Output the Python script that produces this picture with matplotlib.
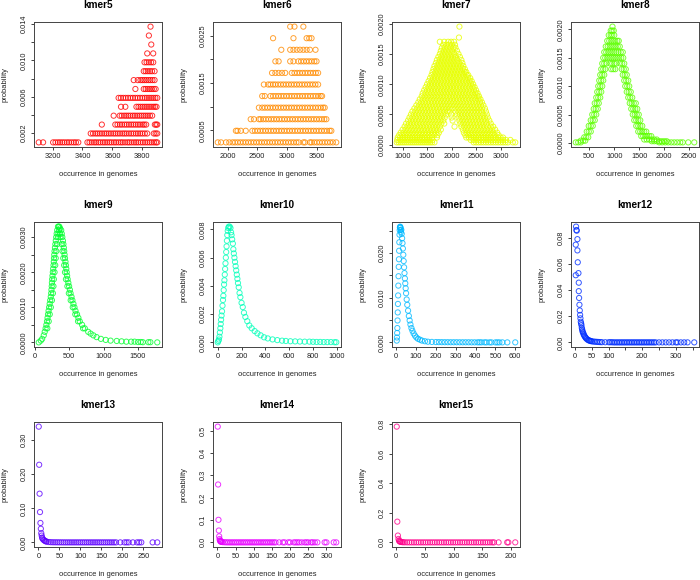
import matplotlib
matplotlib.use("Agg")
import matplotlib.pyplot as plt

plt.rcParams["font.family"] = ["Liberation Sans", "DejaVu Sans"]

# ---- data ---------------------------------------------------------------

# kmer5: discrete probability levels, x values per level
k5_levels = [0.00098, 0.00196, 0.00294, 0.00392, 0.0049, 0.00588, 0.00686,
             0.00784, 0.00882, 0.0098, 0.01078, 0.01176, 0.01275, 0.01373]
k5_x = [
    [3108, 3137, 3204, 3220, 3236, 3250, 3265, 3280, 3296, 3310, 3326, 3342, 3356, 3372,
     3433, 3447, 3462, 3478, 3491, 3506, 3520, 3536, 3550, 3565, 3580, 3594, 3610, 3624,
     3640, 3655, 3668, 3684, 3700, 3713, 3728, 3744, 3758, 3772, 3788, 3803, 3818, 3833,
     3848, 3862, 3877, 3890, 3899],
    [3455, 3470, 3486, 3500, 3515, 3530, 3546, 3560, 3575, 3590, 3606, 3620, 3635, 3650,
     3666, 3680, 3694, 3710, 3725, 3740, 3756, 3770, 3785, 3800, 3816, 3832, 3876, 3888, 3899],
    [3529, 3619, 3634, 3650, 3664, 3680, 3695, 3710, 3725, 3740, 3755, 3770, 3784, 3800,
     3812, 3825, 3883, 3892, 3899],
    [3608, 3648, 3662, 3678, 3692, 3706, 3720, 3736, 3750, 3765, 3780, 3794, 3808, 3822,
     3836, 3850, 3865],
    [3657, 3686, 3760, 3774, 3788, 3802, 3816, 3830, 3844, 3858, 3872, 3884, 3894],
    [3641, 3656, 3672, 3688, 3704, 3720, 3736, 3752, 3768, 3784, 3800, 3816, 3830, 3844,
     3858, 3872, 3886, 3899],
    [3753, 3809, 3822, 3836, 3850, 3863, 3876, 3888],
    [3742, 3769, 3787, 3800, 3813, 3826, 3840, 3853, 3867, 3881],
    [3809, 3822, 3836, 3850, 3864, 3881],
    [3814, 3828, 3843, 3858, 3872],
    [3832, 3872],
    [3859],
    [3843],
    [3854],
]

# kmer6
k6_levels = [0.000245, 0.00049, 0.000735, 0.00098, 0.001225, 0.00147, 0.001715,
             0.00196, 0.002205, 0.00245, 0.002695]
k6_x = [
    [1833, 1889, 1972, 2028, 2083, 2125, 2170, 2215, 2260, 2305, 2350, 2395, 2440, 2485,
     2530, 2575, 2620, 2665, 2710, 2755, 2800, 2845, 2890, 2935, 2980, 3025, 3070, 3115,
     3160, 3200, 3277, 3305, 3388, 3415, 3460, 3505, 3550, 3595, 3640, 3685, 3730, 3775, 3832],
    [2139, 2167, 2222, 2305, 2416, 2460, 2505, 2550, 2595, 2640, 2685, 2730, 2775, 2820,
     2865, 2910, 2955, 3000, 3045, 3090, 3135, 3180, 3225, 3270, 3315, 3360, 3405, 3450,
     3495, 3540, 3585, 3630, 3675, 3721, 3749],
    [2389, 2444, 2527, 2555, 2600, 2645, 2690, 2735, 2780, 2825, 2870, 2915, 2960, 3005,
     3050, 3095, 3140, 3185, 3230, 3275, 3320, 3365, 3410, 3455, 3500, 3545, 3590, 3630, 3665],
    [2527, 2583, 2628, 2673, 2718, 2763, 2808, 2853, 2898, 2943, 2988, 3033, 3078, 3123,
     3168, 3213, 3258, 3303, 3348, 3393, 3438, 3483, 3528, 3573, 3610, 3637],
    [2583, 2627, 2722, 2767, 2812, 2857, 2902, 2947, 2992, 3037, 3082, 3127, 3172, 3217,
     3262, 3307, 3352, 3397, 3442, 3487, 3532, 3570, 3593],
    [2611, 2683, 2722, 2766, 2805, 2850, 2895, 2940, 2985, 3030, 3075, 3120, 3165, 3210,
     3255, 3300, 3345, 3390, 3435, 3480, 3526],
    [2749, 2805, 2860, 2916, 2971, 3082, 3127, 3172, 3217, 3262, 3307, 3352, 3397, 3442,
     3487, 3526],
    [2805, 2860, 3055, 3110, 3193, 3238, 3283, 3328, 3373, 3418, 3463, 3499],
    [2905, 3055, 3110, 3166, 3221, 3277, 3332, 3388, 3482],
    [2766, 3110, 3332, 3376, 3415],
    [3055, 3127, 3277],
]

# kmer7
k7_levels = [0.00004, 0.00008, 0.00012, 0.00016, 0.0002, 0.00025, 0.0003, 0.00035,
             0.0004, 0.00045, 0.0005, 0.00055, 0.0006, 0.00065, 0.0007, 0.00075, 0.0008,
             0.00085, 0.0009, 0.00095, 0.0010, 0.00105, 0.0011, 0.00115, 0.0012, 0.00125,
             0.0013, 0.00135, 0.0014, 0.00145, 0.0015, 0.00155, 0.0016, 0.00165, 0.0017,
             0.00177, 0.00195]
k7_x = [
    [880, 920, 960, 1000, 1040, 1080, 1120, 1160, 1200, 1240, 1280, 1320, 1360, 1400, 1440,
     1480, 1520, 1560, 1600, 1650, 2450, 2500, 2550, 2600, 2650, 2700, 2750, 2800, 2850,
     2900, 2950, 3000, 3050, 3100, 3150, 3250, 3300],
    [890, 950, 1010, 1070, 1130, 1190, 1250, 1310, 1370, 1430, 1490, 1550, 1610, 2390, 2450,
     2510, 2570, 2630, 2690, 2750, 2810, 2870, 2930, 2990, 3050, 3110, 3200],
    [900, 950, 1000, 1050, 1100, 1150, 1200, 1250, 1300, 1350, 1400, 1450, 1500, 1550, 1600,
     1700, 2300, 2350, 2400, 2450, 2500, 2550, 2600, 2650, 2700, 2750, 2800, 2850, 2900,
     2950, 3000, 3050],
    [930, 990, 1050, 1110, 1170, 1230, 1290, 1350, 1410, 1470, 1530, 1590, 1650, 1710, 2280,
     2340, 2400, 2460, 2520, 2580, 2640, 2700, 2760, 2820, 2880, 2960],
    [960, 1020, 1080, 1140, 1200, 1260, 1320, 1380, 1440, 1500, 1560, 1620, 1680, 1740,
     2250, 2310, 2370, 2430, 2490, 2550, 2610, 2670, 2730, 2790, 2850, 2930],
    [1000, 1060, 1120, 1180, 1240, 1300, 1360, 1420, 1480, 1540, 1600, 1660, 1720, 1780,
     2230, 2290, 2350, 2410, 2470, 2530, 2590, 2650, 2710, 2770, 2830, 2890],
    [1040, 1100, 1160, 1220, 1280, 1340, 1400, 1460, 1520, 1580, 1640, 1700, 1760, 2060,
     2200, 2260, 2320, 2380, 2440, 2500, 2560, 2620, 2680, 2740, 2800, 2850],
    [1070, 1130, 1190, 1250, 1310, 1370, 1430, 1490, 1550, 1610, 1670, 1730, 1790, 1850,
     2180, 2240, 2300, 2360, 2420, 2480, 2540, 2600, 2660, 2720, 2800],
    [1110, 1170, 1230, 1290, 1350, 1410, 1470, 1530, 1590, 1650, 1710, 1770, 1830, 2020,
     2160, 2220, 2280, 2340, 2400, 2460, 2520, 2580, 2640, 2700, 2770],
    [1140, 1200, 1260, 1320, 1380, 1440, 1500, 1560, 1620, 1680, 1740, 1800, 1860, 2000,
     2140, 2200, 2260, 2320, 2380, 2440, 2500, 2560, 2620, 2680, 2740],
    [1170, 1230, 1290, 1350, 1410, 1470, 1530, 1590, 1650, 1710, 1770, 1830, 1890, 1990,
     2110, 2170, 2230, 2290, 2350, 2410, 2470, 2530, 2590, 2650, 2720],
    [1200, 1260, 1320, 1380, 1440, 1500, 1560, 1620, 1680, 1740, 1800, 1860, 1920, 1960,
     2080, 2140, 2200, 2260, 2320, 2380, 2440, 2500, 2560, 2620, 2700],
    [1240, 1300, 1360, 1420, 1480, 1540, 1600, 1660, 1720, 1780, 1840, 1900, 1960, 2020,
     2080, 2140, 2200, 2260, 2320, 2380, 2440, 2500, 2560, 2620, 2680],
    [1280, 1340, 1400, 1460, 1520, 1580, 1640, 1700, 1760, 1820, 1880, 1940, 2000, 2060,
     2120, 2180, 2240, 2300, 2360, 2420, 2480, 2540, 2600, 2650],
    [1320, 1380, 1440, 1500, 1560, 1620, 1680, 1740, 1800, 1860, 1920, 1980, 2040, 2100,
     2160, 2220, 2280, 2340, 2400, 2460, 2520, 2580, 2620],
    [1350, 1410, 1470, 1530, 1590, 1650, 1710, 1770, 1830, 1890, 1950, 2010, 2070, 2130,
     2190, 2250, 2310, 2370, 2430, 2490, 2550, 2590],
    [1390, 1450, 1510, 1570, 1630, 1690, 1750, 1810, 1870, 1930, 1990, 2050, 2110, 2170,
     2230, 2290, 2350, 2410, 2470, 2530, 2560],
    [1410, 1470, 1530, 1590, 1650, 1710, 1770, 1830, 1890, 1950, 2010, 2070, 2130, 2190,
     2250, 2310, 2370, 2430, 2490, 2530],
    [1440, 1500, 1560, 1620, 1680, 1740, 1800, 1860, 1920, 1980, 2040, 2100, 2160, 2220,
     2280, 2340, 2400, 2460, 2500],
    [1470, 1530, 1590, 1650, 1710, 1770, 1830, 1890, 1950, 2010, 2070, 2130, 2190, 2250,
     2310, 2370, 2430, 2470],
    [1500, 1560, 1620, 1680, 1740, 1800, 1860, 1920, 1980, 2040, 2100, 2160, 2220, 2280,
     2340, 2400, 2440],
    [1530, 1590, 1650, 1710, 1770, 1830, 1890, 1950, 2010, 2070, 2130, 2190, 2250, 2310,
     2370, 2410],
    [1560, 1620, 1680, 1740, 1800, 1860, 1920, 1980, 2040, 2100, 2160, 2220, 2280, 2340, 2380],
    [1590, 1650, 1710, 1770, 1830, 1890, 1950, 2010, 2070, 2130, 2190, 2250, 2310, 2340],
    [1610, 1670, 1730, 1790, 1850, 1910, 1970, 2030, 2090, 2150, 2210, 2270, 2300],
    [1630, 1690, 1750, 1810, 1870, 1930, 1990, 2050, 2110, 2170, 2230, 2270],
    [1650, 1710, 1770, 1830, 1890, 1950, 2010, 2070, 2130, 2190, 2240],
    [1680, 1740, 1800, 1860, 1920, 1980, 2040, 2100, 2160, 2220],
    [1700, 1760, 1820, 1880, 1940, 2000, 2060, 2120, 2200],
    [1730, 1790, 1850, 1910, 1970, 2030, 2090, 2170],
    [1760, 1820, 1880, 1940, 2000, 2060, 2140],
    [1780, 1840, 1900, 1960, 2020, 2110],
    [1800, 1860, 1920, 1980, 2040, 2080],
    [1830, 1890, 1950, 2010, 2070],
    [1760, 1850, 1930, 1990, 2050],
    [2150],
    [2160],
]

# kmer8
k8_levels = [0.00001, 0.00003, 0.00004, 0.00006, 0.0001, 0.00012, 0.0002, 0.0003, 0.0004,
             0.0005, 0.0006, 0.0007, 0.0008, 0.0009, 0.0010, 0.0011, 0.0012, 0.0013,
             0.0014, 0.0015, 0.0016, 0.0017, 0.0018, 0.0019, 0.00198, 0.00205]
k8_x = [
    [230, 280, 330, 1900, 1960, 2020, 2080, 2140, 2200, 2260, 2320, 2370, 2480, 2600],
    [1750, 1800, 1850, 1900, 1950, 2000, 2050],
    [330, 380, 420],
    [1600, 1650, 1700, 1750, 1800, 1850],
    [400, 440, 480],
    [1540, 1580, 1620, 1660, 1700, 1740],
    [450, 490, 530, 1480, 1520, 1560, 1600, 1640],
    [490, 530, 570, 1440, 1480, 1520, 1560],
    [530, 570, 610, 1400, 1440, 1480, 1520],
    [560, 600, 640, 1370, 1410, 1450, 1490],
    [590, 630, 670, 1340, 1380, 1420, 1460],
    [610, 650, 690, 1310, 1350, 1390, 1430],
    [640, 680, 720, 1280, 1320, 1360],
    [660, 700, 740, 1250, 1290, 1330],
    [680, 720, 760, 1220, 1260, 1300],
    [700, 740, 780, 1200, 1240, 1280],
    [720, 760, 800, 1170, 1210, 1250],
    [740, 780, 820, 940, 980, 1020, 1150, 1190, 1230],
    [760, 800, 840, 920, 960, 1000, 1040, 1120, 1160, 1200],
    [780, 820, 860, 900, 940, 980, 1020, 1060, 1100, 1140, 1180],
    [800, 840, 880, 920, 960, 1000, 1040, 1085, 1130, 1170],
    [830, 870, 910, 950, 990, 1030, 1070, 1110],
    [860, 900, 940, 980, 1020, 1060, 1090],
    [890, 930, 960, 1000],
    [930, 960, 990],
    [965],
]

# kmer9 (outer edge of the band, then inner edge)
k9_x = [55, 85, 105, 128, 142, 155, 166, 175, 183, 190, 198, 206, 214, 222, 230, 236, 240,
        244, 247, 250, 255, 260, 265, 270, 274, 277, 281, 285, 291, 297, 303, 309, 316, 324,
        335, 345, 355, 365, 382, 390, 398, 407, 414, 420, 426, 431, 437, 444, 450, 456, 462,
        468, 476, 486, 497, 508, 518, 532, 545, 560, 575, 590, 612, 632, 652, 686, 725, 775,
        810, 850, 897, 960, 1030, 1100, 1190, 1260, 1330, 1400, 1450, 1500, 1540, 1570,
        1650, 1680, 1780,
        180, 200, 215, 231, 247, 261, 269, 275, 285, 295, 302, 310, 322, 334, 341, 350,
        365, 373, 389, 401, 412, 425, 437, 451, 472, 493, 520, 550, 587, 627, 700]
k9_y = [0.0, 0.00005, 0.0001, 0.0002, 0.0003, 0.0004, 0.0005, 0.0006, 0.0007, 0.0008,
        0.0009, 0.0010, 0.0011, 0.0012, 0.0013, 0.0014, 0.0015, 0.0016, 0.0017, 0.0018,
        0.0019, 0.0020, 0.0021, 0.0022, 0.0023, 0.0024, 0.0025, 0.0026, 0.0027, 0.0028,
        0.0029, 0.0030, 0.0031, 0.0032, 0.0033, 0.0033, 0.0033, 0.00325, 0.0032, 0.0031,
        0.0030, 0.0029, 0.0028, 0.0027, 0.0026, 0.0025, 0.0024, 0.0023, 0.0022, 0.0021,
        0.0020, 0.0019, 0.0018, 0.0017, 0.0016, 0.0015, 0.0014, 0.0013, 0.0012, 0.0011,
        0.0010, 0.0009, 0.0008, 0.0007, 0.0006, 0.0005, 0.0004, 0.0003, 0.00025, 0.0002,
        0.00015, 0.0001, 0.00007, 0.00005, 0.00004, 0.00003, 0.00002, 0.00002, 0.00002,
        0.00001, 0.00001, 0.000005, 0.000005, 0.000005, 0.0,
        0.0004, 0.0006, 0.0008, 0.0010, 0.0012, 0.0014, 0.0016, 0.0018, 0.0020, 0.0022,
        0.0024, 0.0026, 0.0028, 0.0030, 0.0031, 0.0032,
        0.0031, 0.0030, 0.0028, 0.0026, 0.0024, 0.0022, 0.0020, 0.0018, 0.0016, 0.0014,
        0.0012, 0.0010, 0.0008, 0.0006, 0.0004]

# kmer10
k10_x = [0, 5, 10, 14, 18, 22, 25, 28, 32, 36, 40, 44, 47, 50, 53, 56, 59, 62, 65, 68, 71,
         74, 77, 80, 84, 88, 93, 100, 107, 112, 116, 121, 127, 131, 135, 140, 145, 150, 155,
         160, 165, 170, 176, 183, 190, 200, 210, 220, 232, 248, 265, 285, 310, 333, 360,
         389, 420, 460, 500, 540, 572, 610, 650, 690, 730, 770, 800, 830, 860, 890, 920,
         950, 980, 995]
k10_y = [0.0, 0.0001, 0.0002, 0.0004, 0.0007, 0.001, 0.0013, 0.0016, 0.0019, 0.0022,
         0.0026, 0.003, 0.0033, 0.0037, 0.0041, 0.0044, 0.0048, 0.0052, 0.0056, 0.006,
         0.0064, 0.0068, 0.0072, 0.0076, 0.0079, 0.0081, 0.0082, 0.0082, 0.0081, 0.0078,
         0.0076, 0.0073, 0.0070, 0.0066, 0.0063, 0.0060, 0.0057, 0.0054, 0.0051, 0.0048,
         0.0045, 0.0042, 0.0039, 0.0035, 0.0032, 0.0028, 0.0025, 0.0021, 0.0018, 0.0015,
         0.0012, 0.001, 0.0008, 0.00064, 0.0005, 0.00036, 0.00028, 0.00021, 0.00016,
         0.00012, 0.0001, 0.00008, 0.00007, 0.00006, 0.00005, 0.00005, 0.00004, 0.00003,
         0.00003, 0.00002, 0.00002, 0.00002, 0.00001, 0.00001]

# kmer11
k11_x = [3, 4, 5, 6, 7, 8, 9, 10, 11, 12, 13, 14, 15, 16, 17, 18, 19, 20, 21, 22, 23, 24,
         26, 28, 30, 32, 34, 36, 38, 40, 42, 44, 46, 48, 50, 53, 56, 60, 64, 68, 72, 77, 82,
         88, 95, 102, 110, 120, 130, 145, 160, 180, 200, 215, 230, 245, 260, 275, 290, 305,
         320, 335, 350, 365, 380, 395, 410, 420, 430, 445, 455, 470, 480, 500, 510, 520,
         535, 560, 600]
k11_y = [0.0004, 0.0011, 0.0021, 0.0032, 0.0049, 0.0067, 0.0086, 0.0105, 0.0127, 0.0148,
         0.0169, 0.0186, 0.0205, 0.0224, 0.0241, 0.0251, 0.0257, 0.0259, 0.0258, 0.0256,
         0.0252, 0.0247, 0.0252, 0.0243, 0.0233, 0.0222, 0.021, 0.0196, 0.0182, 0.0168,
         0.0155, 0.0143, 0.0132, 0.0121, 0.011, 0.0096, 0.0084, 0.0071, 0.0059, 0.0049,
         0.004, 0.0032, 0.0026, 0.002, 0.0015, 0.0011, 0.0008, 0.0006, 0.0004, 0.00025,
         0.00015, 0.0001, 0.00007, 0.00006, 0.00005, 0.00004, 0.00004, 0.00003, 0.00003,
         0.00003, 0.00002, 0.00002, 0.00002, 0.00002, 0.00001, 0.00001, 0.00001, 0.00001,
         0.00001, 0.00001, 0.0, 0.0, 0.0, 0.0, 0.0, 0.0, 0.0, 0.0, 0.0]

# kmer12
k12_x = [2, 2, 3, 4, 5, 7, 7, 8, 10, 11, 11, 12, 13, 14, 15, 16, 17, 18, 19, 20, 21, 22,
         23, 25, 26, 28, 30, 32, 34, 37, 40, 42, 45, 47, 50, 55, 60, 65, 70, 75, 80, 90,
         100, 105, 110, 115, 120, 125, 130, 135, 140, 145, 150, 155, 160, 165, 170, 175,
         180, 185, 190, 195, 200, 205, 210, 215, 220, 225, 230, 235, 240, 250, 260, 270,
         280, 290, 300, 305, 315, 325, 335, 355]
k12_y = [0.0748, 0.0514, 0.0886, 0.086, 0.0855, 0.079, 0.0704, 0.0613, 0.053, 0.0457,
         0.0392, 0.034, 0.0288, 0.0244, 0.021, 0.0184, 0.0158, 0.0145, 0.0132, 0.0112,
         0.010, 0.0088, 0.0078, 0.0068, 0.0058, 0.0049, 0.0041, 0.0034, 0.0028, 0.0021,
         0.0017, 0.0014, 0.0012, 0.001, 0.0008, 0.0006, 0.0005, 0.0004, 0.0003, 0.0002,
         0.00015, 0.0001, 0.0001, 0.0001, 0.0001, 0.0, 0.0, 0.0, 0.0, 0.0, 0.0, 0.0, 0.0,
         0.0, 0.0, 0.0, 0.0, 0.0, 0.0, 0.0, 0.0, 0.0, 0.0, 0.0, 0.0, 0.0, 0.0, 0.0, 0.0,
         0.0, 0.0, 0.0, 0.0, 0.0, 0.0, 0.0, 0.0, 0.0, 0.0, 0.0, 0.0, 0.0]

# kmer13
k13_x = [1, 2, 3, 4, 5, 6, 7, 8, 9, 10, 12, 14, 16, 18, 20, 25, 30, 35, 40, 45, 50, 55, 60,
         65, 70, 75, 80, 85, 90, 95, 100, 105, 110, 115, 120, 125, 130, 135, 140, 145, 150,
         155, 160, 165, 170, 175, 180, 185, 195, 205, 210, 215, 225, 235, 240, 245, 272, 283]
k13_y = [0.34, 0.228, 0.143, 0.089, 0.057, 0.04, 0.027, 0.02, 0.014, 0.011, 0.008, 0.006,
         0.004, 0.003, 0.002, 0.001, 0.0005, 0.0003, 0.0002, 0.0002, 0.0001, 0.0001, 0.0,
         0.0, 0.0, 0.0, 0.0, 0.0, 0.0, 0.0, 0.0, 0.0, 0.0, 0.0, 0.0, 0.0, 0.0, 0.0, 0.0,
         0.0, 0.0, 0.0, 0.0, 0.0, 0.0, 0.0, 0.0, 0.0, 0.0, 0.0, 0.0, 0.0, 0.0, 0.0, 0.0,
         0.0, 0.0, 0.0]

# kmer14
k14_x = [1, 2, 3, 4, 5, 6, 7, 8, 9, 10, 12, 15, 20, 25, 30, 35, 40, 45, 50, 55, 60, 65, 70,
         75, 80, 85, 90, 95, 100, 105, 110, 115, 120, 125, 130, 135, 140, 145, 150, 155, 160,
         170, 180, 185, 195, 200, 210, 215, 220, 225, 232, 240, 245, 250, 258, 262, 268, 275,
         295, 300, 320, 327]
k14_y = [0.518, 0.259, 0.101, 0.053, 0.027, 0.015, 0.009, 0.006, 0.004, 0.003, 0.002,
         0.001, 0.0005, 0.0002, 0.0001, 0.0, 0.0, 0.0, 0.0, 0.0, 0.0, 0.0, 0.0, 0.0, 0.0,
         0.0, 0.0, 0.0, 0.0, 0.0, 0.0, 0.0, 0.0, 0.0, 0.0, 0.0, 0.0, 0.0, 0.0, 0.0, 0.0,
         0.0, 0.0, 0.0, 0.0, 0.0, 0.0, 0.0, 0.0, 0.0, 0.0, 0.0, 0.0, 0.0, 0.0, 0.0, 0.0,
         0.0, 0.0, 0.0, 0.0, 0.0]

# kmer15
k15_x = [1, 2, 3, 4, 5, 6, 7, 8, 10, 12, 15, 19, 23, 27, 31, 35, 39, 43, 47, 51, 55, 59,
         63, 67, 71, 75, 79, 83, 87, 91, 95, 99, 103, 107, 111, 115, 119, 123, 127, 131, 135,
         139, 143, 147, 151, 155, 159, 163, 167, 170, 178, 193, 195, 207]
k15_y = [0.782, 0.14, 0.046, 0.023, 0.011, 0.007, 0.005, 0.003, 0.002, 0.001, 0.0005,
         0.0002, 0.0001, 0.0, 0.0, 0.0, 0.0, 0.0, 0.0, 0.0, 0.0, 0.0, 0.0, 0.0, 0.0, 0.0,
         0.0, 0.0, 0.0, 0.0, 0.0, 0.0, 0.0, 0.0, 0.0, 0.0, 0.0, 0.0, 0.0, 0.0, 0.0, 0.0,
         0.0, 0.0, 0.0, 0.0, 0.0, 0.0, 0.0, 0.0, 0.0, 0.0, 0.0, 0.0]


def flatten(levels, xs):
    px, py = [], []
    for lev, row in zip(levels, xs):
        px.extend(row)
        py.extend([lev] * len(row))
    return px, py


k5_px, k5_py = flatten(k5_levels, k5_x)
k6_px, k6_py = flatten(k6_levels, k6_x)
k7_px, k7_py = flatten(k7_levels, k7_x)
k8_px, k8_py = flatten(k8_levels, k8_x)

# R rainbow(11)
colors = ["#FF0000", "#FF8B00", "#E8FF00", "#5DFF00", "#00FF2E", "#00FFB9",
          "#00B9FF", "#002EFF", "#5D00FF", "#E800FF", "#FF008B"]

panels = [
    ("kmer5", k5_px, k5_py, [3200, 3400, 3600, 3800], ["3200", "3400", "3600", "3800"],
     [0.002, 0.004, 0.006, 0.008, 0.010, 0.012, 0.014],
     ["0.002", "", "0.006", "", "0.010", "", "0.014"]),
    ("kmer6", k6_px, k6_py, [2000, 2500, 3000, 3500], ["2000", "2500", "3000", "3500"],
     [0.0005, 0.0010, 0.0015, 0.0020, 0.0025],
     ["0.0005", "", "0.0015", "", "0.0025"]),
    ("kmer7", k7_px, k7_py, [1000, 1500, 2000, 2500, 3000],
     ["1000", "1500", "2000", "2500", "3000"],
     [0.0, 0.0005, 0.0010, 0.0015, 0.0020],
     ["0.0000", "0.0005", "0.0010", "0.0015", "0.0020"]),
    ("kmer8", k8_px, k8_py, [500, 1000, 1500, 2000, 2500],
     ["500", "1000", "1500", "2000", "2500"],
     [0.0, 0.0005, 0.0010, 0.0015, 0.0020],
     ["0.0000", "0.0005", "0.0010", "0.0015", "0.0020"]),
    ("kmer9", k9_x, k9_y, [0, 500, 1000, 1500], ["0", "500", "1000", "1500"],
     [0.0, 0.0005, 0.0010, 0.0015, 0.0020, 0.0025, 0.0030],
     ["0.0000", "", "0.0010", "", "0.0020", "", "0.0030"]),
    ("kmer10", k10_x, k10_y, [0, 200, 400, 600, 800, 1000],
     ["0", "200", "400", "600", "800", "1000"],
     [0.0, 0.002, 0.004, 0.006, 0.008],
     ["0.000", "0.002", "0.004", "0.006", "0.008"]),
    ("kmer11", k11_x, k11_y, [0, 100, 200, 300, 400, 500, 600],
     ["0", "100", "200", "300", "400", "500", "600"],
     [0.0, 0.005, 0.010, 0.015, 0.020, 0.025],
     ["0.000", "", "0.010", "", "0.020", ""]),
    ("kmer12", k12_x, k12_y, [0, 50, 100, 150, 200, 250, 300, 350],
     ["0", "50", "100", "", "200", "", "300", ""],
     [0.0, 0.02, 0.04, 0.06, 0.08],
     ["0.00", "0.02", "0.04", "0.06", "0.08"]),
    ("kmer13", k13_x, k13_y, [0, 50, 100, 150, 200, 250],
     ["0", "50", "100", "150", "200", "250"],
     [0.0, 0.1, 0.2, 0.3], ["0.00", "0.10", "0.20", "0.30"]),
    ("kmer14", k14_x, k14_y, [0, 50, 100, 150, 200, 250, 300],
     ["0", "50", "100", "150", "200", "250", "300"],
     [0.0, 0.1, 0.2, 0.3, 0.4, 0.5], ["0.0", "0.1", "0.2", "0.3", "0.4", "0.5"]),
    ("kmer15", k15_x, k15_y, [0, 50, 100, 150, 200],
     ["0", "50", "100", "150", "200"],
     [0.0, 0.2, 0.4, 0.6, 0.8], ["0.0", "0.2", "0.4", "0.6", "0.8"]),
]

# ---- layout (pixel positions of the plot boxes) -------------------------
W, H = 700, 580
col_left = [34, 213, 392, 571]
row_top = [22, 222, 422]
box_w, box_h = 128, 125

fig = plt.figure(figsize=(W / 100, H / 100), dpi=100)

for i, (name, xs, ys, xt, xtl, yt, ytl) in enumerate(panels):
    r, c = divmod(i, 4)
    left = col_left[c] / W
    bottom = 1 - (row_top[r] + box_h) / H
    ax = fig.add_axes([left, bottom, box_w / W, box_h / H])
    ax.scatter(xs, ys, s=14, facecolors="none", edgecolors=colors[i],
               linewidths=0.7, alpha=0.8)
    ax.margins(0.04)
    ax.set_xticks(xt)
    ax.set_xticklabels(xtl)
    ax.set_yticks(yt)
    ax.set_yticklabels(ytl, rotation=90, va="center")
    ax.tick_params(direction="out", length=2.5, width=0.6, pad=2,
                   labelsize=5.3, colors="#222222")
    for sp in ax.spines.values():
        sp.set_linewidth(0.7)
        sp.set_color("#444444")
    ax.set_xlabel("occurrence in genomes", fontsize=5.4, color="#222222")
    ax.set_ylabel("probability", fontsize=5.4, color="#222222")
    ax.xaxis.set_label_coords(0.5, -28 / box_h)
    ax.yaxis.set_label_coords(-29 / box_w, 0.5)
    ax.xaxis.label.set_va("center")
    ax.yaxis.label.set_va("center")
    ax.text(0.5, 1 + 17 / box_h, name, transform=ax.transAxes, ha="center",
            va="center", fontsize=7.2, fontweight="bold")

fig.savefig("out.png", dpi=100)
